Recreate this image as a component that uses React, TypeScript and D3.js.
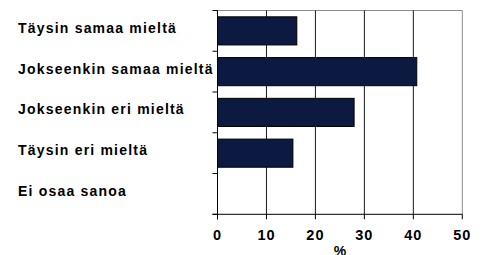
import React, { useEffect, useRef } from 'react';
import * as d3 from 'd3';

const categories = [
  'Täysin samaa mieltä',
  'Jokseenkin samaa mieltä',
  'Jokseenkin eri mieltä',
  'Täysin eri mieltä',
  'Ei osaa sanoa',
];
const values = [16.2, 40.7, 27.9, 15.4, 0];
const xTicks = [0, 10, 20, 30, 40, 50];
const axisTitle = '%';

const App = () => {
  const svgRef = useRef<SVGSVGElement | null>(null);

  useEffect(() => {
    const svg = d3.select(svgRef.current);
    svg.selectAll('*').remove();

    const left = 217.5, right = 462.3, top = 10.5, bottom = 214.3;
    const font = '"Liberation Sans", Arial, sans-serif';

    const x = d3.scaleLinear().domain([0, 50]).range([left, right]);
    const y = d3.scaleBand().domain(categories).range([top, bottom]).paddingInner(0.31).paddingOuter(0.155);
    const band = d3.scaleBand().domain(categories).range([top, bottom]);

    // plot border (top + right, gray)
    svg.append('path')
      .attr('d', `M${left},${top}H${right}V${bottom}`)
      .attr('fill', 'none')
      .attr('stroke', '#8c8c8c')
      .attr('stroke-width', 1);

    // gridlines
    svg.append('g')
      .selectAll('line')
      .data(xTicks.filter(t => t > 0 && t < 50))
      .join('line')
      .attr('x1', d => x(d)).attr('x2', d => x(d))
      .attr('y1', top).attr('y2', bottom)
      .attr('stroke', '#1a1a1a')
      .attr('stroke-width', 1);

    // bars
    svg.append('g')
      .selectAll('rect')
      .data(categories.map((c, i) => ({ c, v: values[i] })).filter(d => d.v > 0))
      .join('rect')
      .attr('x', x(0))
      .attr('y', d => y(d.c)!)
      .attr('width', d => x(d.v) - x(0))
      .attr('height', y.bandwidth())
      .attr('fill', '#0c1940')
      .attr('stroke', '#000')
      .attr('stroke-width', 1);

    // y axis
    svg.append('line')
      .attr('x1', left).attr('x2', left)
      .attr('y1', top).attr('y2', bottom + 5)
      .attr('stroke', '#000');
    const bounds = categories.map(c => band(c)!).concat([bottom]);
    svg.append('g')
      .selectAll('line')
      .data(bounds)
      .join('line')
      .attr('x1', left - 5).attr('x2', left)
      .attr('y1', d => d).attr('y2', d => d)
      .attr('stroke', '#000');

    // x axis
    svg.append('line')
      .attr('x1', left - 5).attr('x2', right)
      .attr('y1', bottom).attr('y2', bottom)
      .attr('stroke', '#000');
    svg.append('g')
      .selectAll('line')
      .data(xTicks)
      .join('line')
      .attr('x1', d => x(d)).attr('x2', d => x(d))
      .attr('y1', bottom).attr('y2', bottom + 5)
      .attr('stroke', '#000');
    svg.append('g')
      .selectAll('text')
      .data(xTicks)
      .join('text')
      .attr('x', d => x(d))
      .attr('y', 240)
      .attr('text-anchor', 'middle')
      .attr('font-family', font)
      .attr('font-weight', 'bold')
      .attr('font-size', 14.5)
      .attr('letter-spacing', 1)
      .text(d => d);

    svg.append('text')
      .attr('x', (left + right) / 2)
      .attr('y', 256)
      .attr('text-anchor', 'middle')
      .attr('font-family', font)
      .attr('font-weight', 'bold')
      .attr('font-size', 14)
      .text(axisTitle);

    // category labels
    svg.append('g')
      .selectAll('text')
      .data(categories)
      .join('text')
      .attr('x', 18)
      .attr('y', d => band(d)! + band.bandwidth() / 2 + 2)
      .attr('font-family', font)
      .attr('font-weight', 'bold')
      .attr('font-size', 14)
      .attr('letter-spacing', 1.2)
      .attr('fill', '#000')
      .text(d => d);
  }, []);

  return (
    <svg ref={svgRef} width={487} height={255}
      style={{ position: 'absolute', left: 0, top: 0, background: '#fff' }} />
  );
};

export default App;
